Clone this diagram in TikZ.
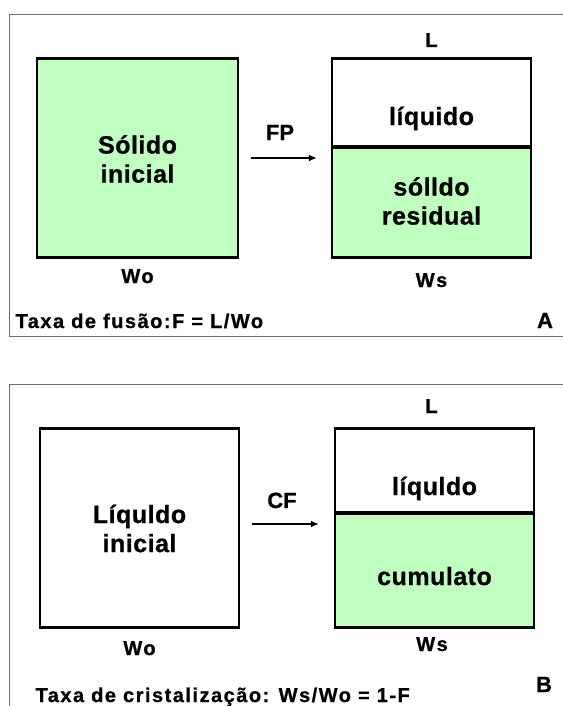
\documentclass[tikz,border=0pt]{standalone}
\usepackage{fontspec}
\setmainfont{Liberation Sans}[BoldFont={Liberation Sans Bold}]
\newfontfamily\labelfont{Liberation Sans Bold}[FakeBold=0.8]
\usetikzlibrary{arrows.meta}
\definecolor{solid}{HTML}{C0FFC0}
\definecolor{frame}{HTML}{707070}
\tikzset{
  panel/.style={draw=frame, line width=1pt},
  phase/.style={draw, line width=2.2pt, inner sep=0pt},
  big/.style={font=\labelfont\fontsize{25}{29}\selectfont\addfontfeature{LetterSpace=2}, align=center},
  mid/.style={font=\labelfont\fontsize{22}{25}\selectfont, anchor=base},
  small/.style={font=\labelfont\fontsize{20}{23}\selectfont\addfontfeature{LetterSpace=7.5}, anchor=base},
  flow/.style={-{Latex[length=8pt,width=7pt]}, line width=2pt},
}
\begin{document}
\begin{tikzpicture}[x=1pt,y=-1pt]
\useasboundingbox (0,0) rectangle (562,706);
% A: fusion
\draw[panel] (570,15) -| (9.5,336) -- (570,336);
\node[phase, fill=solid, minimum width=201pt, minimum height=199pt] (solA) at (137.5,158) {};
\node[phase, minimum width=199pt, minimum height=88pt] (liqA) at (431.5,102.5) {};
\node[phase, fill=solid, minimum width=199pt, minimum height=110pt] (resA) at (431.5,202.5) {};
\node[big] (tsolA) at (137.5,159) {Sólido\\inicial};
\node[big, anchor=base] (tliqA) at (431.5,125) {líquido};
\node[big] (tresA) at (431.5,201) {sólldo\\residual};
\node[small] (lA) at (431.5,47) {L};
\node[small] (woA) at (137.5,283) {Wo};
\node[small] (wsA) at (431.5,287) {Ws};
\node[mid] (fp) at (280,140) {FP};
\node[mid] (a) at (545,328) {A};
\node[small, anchor=base west] (taxaA) at (12,328) {Taxa de fusão:F = L/Wo};
\draw[flow, shorten <=12pt, shorten >=14pt] (solA.east) -- (solA.east -| resA.west);
% B: crystallization
\draw[panel] (570,384) -| (9.5,712);
\node[phase, minimum width=199pt, minimum height=199pt] (liqB) at (139.5,528) {};
\node[phase, minimum width=199pt, minimum height=84pt] (topB) at (434.5,470.5) {};
\node[phase, fill=solid, minimum width=199pt, minimum height=114pt] (cumB) at (434.5,570.5) {};
\node[big] (tliqB) at (139.5,528.5) {Líquldo\\inicial};
\node[big, anchor=base] (ttopB) at (434.5,495) {líquldo};
\node[big, anchor=base] (tcumB) at (434.5,585) {cumulato};
\node[small] (lB) at (431.5,413) {L};
\node[small] (woB) at (139.5,655) {Wo};
\node[small] (wsB) at (432,651) {Ws};
\node[mid] (cf) at (282,508) {CF};
\node[mid] (b) at (544,692) {B};
\node[small, anchor=base west] (taxaB) at (32,702) {Taxa de cristalização: Ws/Wo = 1-F};
\draw[flow, shorten <=12pt, shorten >=15pt] ([yshift=4pt]liqB.east) -- ([yshift=4pt]liqB.east -| cumB.west);
\end{tikzpicture}
\end{document}
